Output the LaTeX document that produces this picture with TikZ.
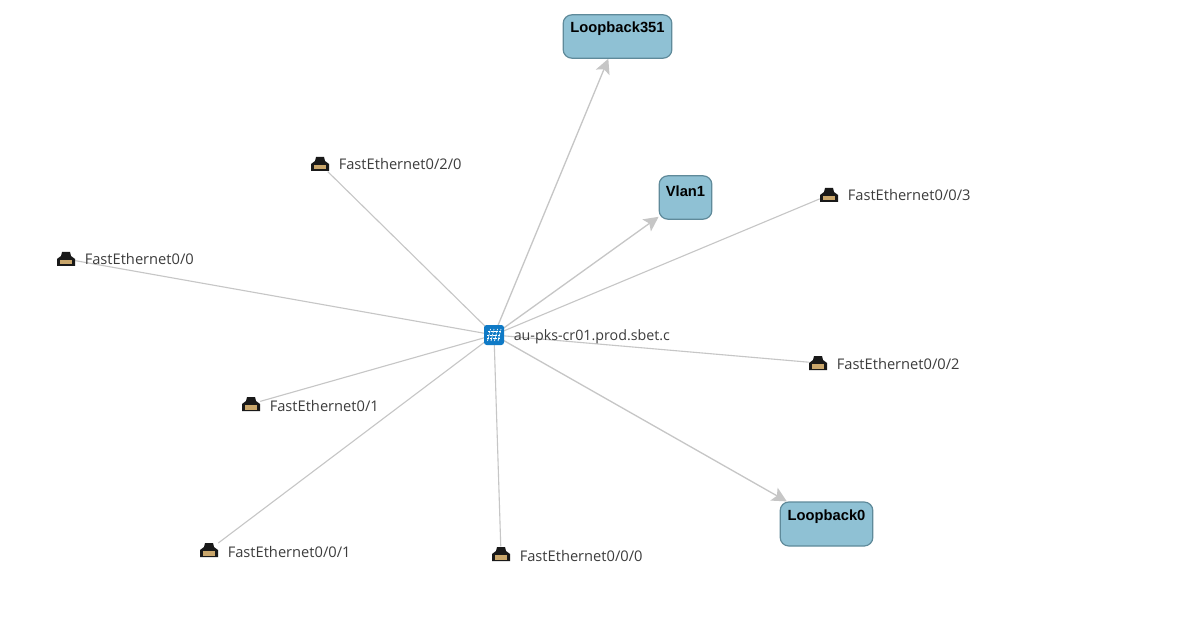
\documentclass[tikz,border=0pt]{standalone}
\usepackage{fontspec}
\setmainfont{Open Sans}
\newfontfamily\boxfont{Liberation Sans}
\usetikzlibrary{arrows.meta}
\pgfdeclarelayer{paper}
\pgfdeclarelayer{edges}
\pgfsetlayers{paper,edges,main}
\definecolor{linkgray}{HTML}{C6C6C6}
\definecolor{boxfill}{HTML}{8FC1D4}
\definecolor{boxedge}{HTML}{5F8A9A}
\definecolor{hubblue}{HTML}{0F7AC6}
\definecolor{porttan}{HTML}{C9A66B}
\definecolor{labelgray}{HTML}{3C3C3C}
\tikzset{
  link/.style={draw=linkgray,line width=1.1pt*0.75},
  arrowlink/.style={link,line width=1.3pt*0.75,-{Stealth[length=11pt,width=11pt,inset=2.5pt]}},
  boxfontstyle/.style={font=\boxfont\bfseries\fontsize{11.05pt}{12pt}\selectfont,text=black},
  ifbox/.style={draw=boxedge,fill=boxfill,line width=0.9pt,rounded corners=6.5pt,inner sep=0pt},
  boxlabel/.style={inner sep=0pt,boxfontstyle},
  portlabel/.style={anchor=west,inner sep=0pt,text=labelgray,font=\fontsize{11pt}{12pt}\selectfont},
  hublabelstyle/.style={anchor=west,inner sep=0pt,text=labelgray,font=\fontsize{10.7pt}{12pt}\selectfont},
  porticon/.style={minimum width=13.5pt,minimum height=11pt,inner sep=0pt,
    path picture={
      \fill[black!90] (-9,7) -- (-9,0) -- (-5,-3) -- (-4,-7) -- (4,-7) -- (5,-3) -- (9,0) -- (9,7) -- cycle;
      \fill[porttan] (-6,5.5) -- (-6,1) -- (6,1) -- (6,5.5) -- cycle;
    }},
  hubicon/.style={minimum size=15pt,inner sep=0pt,fill=hubblue,rounded corners=2pt,
    path picture={
      \begin{scope}[draw=white,line width=0.55pt,dash pattern=on 1.5pt off 0.6pt]
        \draw (-6,-3.5) -- (7,-3.5);
        \draw (-7,0) -- (6,0);
        \draw (-7,3.5) -- (6,3.5);
        \draw (-3,6) -- (0,-6);
        \draw (0.5,6) -- (3.5,-6);
        \draw (4,6) -- (7,-6);
        \draw (-6.5,6) -- (-3.5,-6);
      \end{scope}
    }}
}
\begin{document}
\begin{tikzpicture}[x=0.75pt,y=-0.75pt]
\useasboundingbox (0,0) rectangle (1180,623);
\begin{pgfonlayer}{paper}
\fill[white] (0,0) rectangle (1180,623);
\end{pgfonlayer}

\node[hubicon] (hub) at (494,335) {};
\node[hublabelstyle] (hublabel) at (513.5,336.5) {au-pks-cr01.prod.sbet.c};

\node[porticon] (p020) at (320,164) {};
\node[portlabel] (p020l) at (338.5,164.5) {FastEthernet0/2/0};
\node[porticon] (p003) at (829,195) {};
\node[portlabel] (p003l) at (847.5,195.5) {FastEthernet0/0/3};
\node[porticon] (p00) at (66,259) {};
\node[portlabel] (p00l) at (84.5,259.5) {FastEthernet0/0};
\node[porticon] (p002) at (818,363) {};
\node[portlabel] (p002l) at (836.5,363.5) {FastEthernet0/0/2};
\node[porticon] (p01) at (251,404) {};
\node[portlabel] (p01l) at (269.5,405.5) {FastEthernet0/1};
\node[porticon] (p001) at (209,550) {};
\node[portlabel] (p001l) at (227.5,551.5) {FastEthernet0/0/1};
\node[porticon] (p000) at (501,554) {};
\node[portlabel] (p000l) at (519.5,555.5) {FastEthernet0/0/0};

\node[ifbox,minimum width=81.5pt,minimum height=32.5pt] (lo351) at (617.5,36.5) {};
\node[boxlabel] (lo351t) at (617.5,29) {Loopback351};
\node[ifbox,minimum width=39.5pt,minimum height=32.5pt] (vlan) at (685.5,197.5) {};
\node[boxlabel] (vlant) at (685.5,191) {Vlan1};
\node[ifbox,minimum width=69.5pt,minimum height=33pt] (lo0) at (826.5,524) {};
\node[boxlabel] (lo0t) at (826.5,517) {Loopback0};

\begin{pgfonlayer}{edges}
  \foreach \p in {p020,p003,p00,p002,p01,p001,p000}
    \draw[link] (hub.center) -- (\p);
  \draw[arrowlink] (hub.center) -- (lo351);
  \draw[arrowlink] (hub.center) -- (vlan);
  \draw[arrowlink] (hub.center) -- (lo0);
\end{pgfonlayer}
\end{tikzpicture}
\end{document}
